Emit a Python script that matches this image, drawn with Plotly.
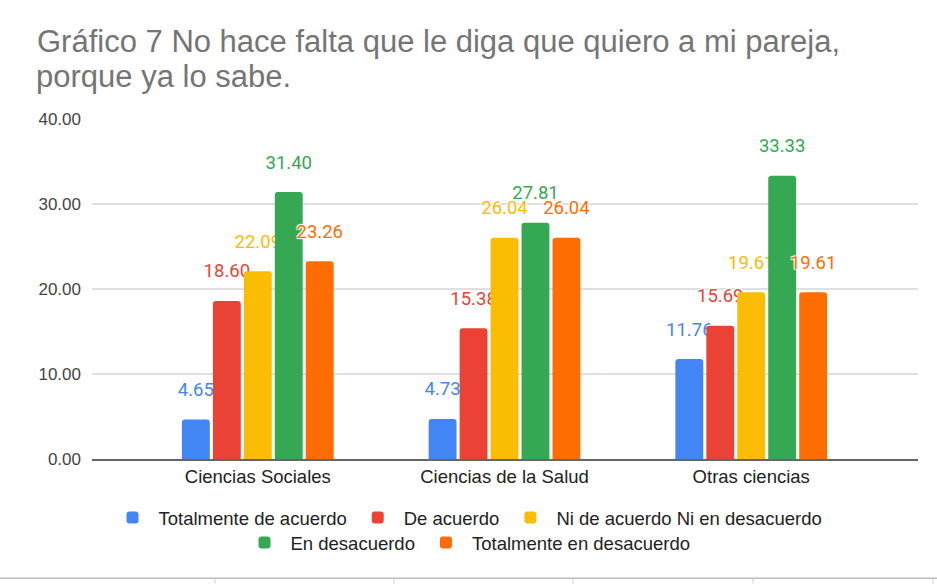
import plotly.graph_objects as go

categories = ["Ciencias Sociales", "Ciencias de la Salud", "Otras ciencias"]
series_names = [
    "Totalmente de acuerdo",
    "De acuerdo",
    "Ni de acuerdo Ni en desacuerdo",
    "En desacuerdo",
    "Totalmente en desacuerdo",
]
totalmente_de_acuerdo = [4.65, 4.73, 11.76]
de_acuerdo = [18.60, 15.38, 15.69]
ni_ni = [22.09, 26.04, 19.61]
en_desacuerdo = [31.40, 27.81, 33.33]
totalmente_en_desacuerdo = [23.26, 26.04, 19.61]
y_ticks = [0, 10, 20, 30, 40]
title_lines = ["Gráfico 7 No hace falta que le diga que quiero a mi pareja,", "porque ya lo sabe."]

series_values = [totalmente_de_acuerdo, de_acuerdo, ni_ni, en_desacuerdo, totalmente_en_desacuerdo]
colors = ["#4285F4", "#EA4335", "#FBBC04", "#34A853", "#FF6D01"]
legend_ids = ["legend", "legend", "legend", "legend2", "legend2"]

halo = "1px 1px 1px #fff, -1px -1px 1px #fff, 1px -1px 1px #fff, -1px 1px 1px #fff"

fig = go.Figure()
for name, vals, col, lg in zip(series_names, series_values, colors, legend_ids):
    fig.add_trace(go.Bar(
        x=categories, y=vals, name=name,
        marker=dict(color=col, line=dict(width=0), cornerradius=3),
        text=[f"<span style='font-size:18.5px'>{v:.2f}</span><br><span style='font-size:6px'>\u00a0</span>"
              for v in vals],
        textposition="outside",
        textangle=0,
        constraintext="none",
        cliponaxis=False,
        textfont=dict(family="Roboto, Arial, sans-serif", size=15, color=col, shadow=halo),
        legend=lg,
        hoverinfo="x+y+name",
    ))

W, H = 937, 585
ml, mr, mt, mb = 92, 19, 118.5, 124.3
pw = W - ml - mr
ph = H - mt - mb

def ypaper(px):
    return (H - mb - px) / ph

def xpaper(px):
    return (px - ml) / pw

shapes = [dict(type="line", xref="paper", yref="paper", x0=xpaper(0), x1=xpaper(W),
               y0=ypaper(580.5), y1=ypaper(580.5), line=dict(color="#bdbdbd", width=1.5))]
for xp in [215, 394, 573, 753, 933]:
    shapes.append(dict(type="line", xref="paper", yref="paper", x0=xpaper(xp), x1=xpaper(xp),
                       y0=ypaper(581), y1=ypaper(586), line=dict(color="#d0d0d0", width=1)))

title_font = dict(family="Liberation Sans, Arial, sans-serif", size=31, color="#757575")

fig.update_layout(
    width=W, height=H,
    margin=dict(l=ml, r=mr, t=mt, b=mb),
    paper_bgcolor="white", plot_bgcolor="white",
    title=dict(
        text=title_lines[0],
        x=37 / W, xanchor="left", xref="container",
        y=1 - 41 / H, yanchor="middle", yref="container",
        font=title_font,
    ),
    annotations=[dict(
        text=title_lines[1], xref="paper", yref="paper",
        x=xpaper(35), y=ypaper(76), xanchor="left", yanchor="middle",
        showarrow=False, font=title_font, borderpad=0,
    )],
    barmode="group",
    bargap=0.3725,
    bargroupgap=0.1,
    xaxis=dict(
        range=[-0.672, 2.676],
        showgrid=False,
        showline=True, linecolor="#666666", linewidth=2,
        ticks="", tickfont=dict(family="Liberation Sans, Arial, sans-serif", size=18.5, color="#222222"),
        fixedrange=True,
    ),
    yaxis=dict(
        range=[0, 40], tickvals=y_ticks, tickformat=".2f",
        showgrid=True, gridcolor="#e0e0e0", gridwidth=1.5,
        zeroline=False, showline=False, ticks="",
        ticklabelstandoff=10,
        tickfont=dict(family="Liberation Sans, Arial, sans-serif", size=17, color="#444444"),
        fixedrange=True,
    ),
    legend=dict(
        orientation="h", xref="container", x=467 / W, xanchor="center",
        yref="container", y=1 - 518 / H, yanchor="middle",
        font=dict(family="Liberation Sans, Arial, sans-serif", size=18.5, color="#222222"),
        traceorder="normal", bgcolor="rgba(0,0,0,0)", itemwidth=42,
    ),
    legend2=dict(
        orientation="h", xref="container", x=467 / W, xanchor="center",
        yref="container", y=1 - 543 / H, yanchor="middle",
        font=dict(family="Liberation Sans, Arial, sans-serif", size=18.5, color="#222222"),
        traceorder="normal", bgcolor="rgba(0,0,0,0)", itemwidth=42,
    ),
    shapes=shapes,
    showlegend=True,
)

fig.write_html("out.html", config={"displayModeBar": False},
               post_script="document.body.style.margin='0px';")
